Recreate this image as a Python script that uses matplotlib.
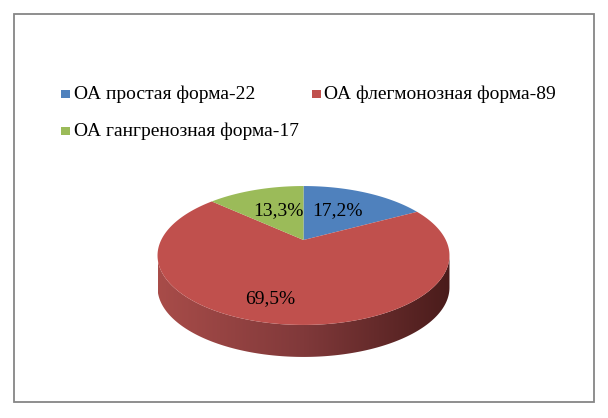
import numpy as np
import matplotlib.pyplot as plt
from matplotlib.patches import Polygon, Rectangle
from matplotlib.colors import LinearSegmentedColormap

plt.rcParams['font.family'] = ['Liberation Serif', 'DejaVu Serif']

# data
labels = ['ОА простая форма-22', 'ОА флегмонозная форма-89', 'ОА гангренозная форма-17']
values = [22, 89, 17]
colors = ['#4F81BD', '#C0504D', '#9BBB59']

# layout (pixel coordinates, y downwards)
W, H = 608, 418
cx, cy = 303.5, 240.0          # pie apex on screen
A, B, p = 142.3, 66.0, 0.223   # half axes and perspective factor
depth = 32
label_xy = [(337, 211), (270, 299), (278.5, 211)]
legend_xy = [(61, 94), (312, 94), (61, 131)]

fig = plt.figure(figsize=(W / 100, H / 100), dpi=100)
ax = fig.add_axes([0, 0, 1, 1])
ax.set_xlim(0, W)
ax.set_ylim(H, 0)
ax.axis('off')


def proj(phi, r=1.0):
    # phi in degrees, clockwise from 12 o'clock
    u = r * np.sin(np.radians(phi))
    v = -r * np.cos(np.radians(phi))
    d = 1 - p * v
    return cx + A * u / d, cy + B * v / d


# side wall (front part only)
phi_l = np.degrees(np.arccos(-p))
front = np.linspace(phi_l, 360 - phi_l, 200)
fx, fy = proj(front)
side = np.column_stack([np.r_[fx, fx[::-1]], np.r_[fy, fy[::-1] + depth]])
side_patch = Polygon(side, closed=True, facecolor='none', edgecolor='none')
ax.add_patch(side_patch)
cmap = LinearSegmentedColormap.from_list('side', ['#A84C49', '#80393A', '#4A1C1B'])
grad = np.linspace(0, 1, 256).reshape(1, -1)
im = ax.imshow(grad, cmap=cmap, aspect='auto', zorder=1,
               extent=[fx.min(), fx.max(), fy.max() + depth, fy.min()])
im.set_clip_path(side_patch)
ax.set_xlim(0, W)
ax.set_ylim(H, 0)

# top faces, first slice clockwise from 12 o'clock
total = sum(values)
a = 0.0
for i, val in enumerate(values):
    sweep = 360.0 * val / total
    ph = np.linspace(a, a + sweep, 200)
    a += sweep
    px, py = proj(ph)
    pts = np.column_stack([np.r_[cx, px], np.r_[cy, py]])
    ax.add_patch(Polygon(pts, closed=True, facecolor=colors[i],
                         edgecolor='none', zorder=2))

# percentage labels
for i, val in enumerate(values):
    txt = f'{100 * val / total:.1f}%'.replace('.', ',')
    ax.text(*label_xy[i], txt, ha='center', va='center', fontsize=14,
            color='black', zorder=3)

# legend
for i, lab in enumerate(labels):
    lx, ly = legend_xy[i]
    ax.add_patch(Rectangle((lx, ly - 4.2), 8.5, 8.5, facecolor=colors[i],
                           edgecolor='none'))
    ax.text(lx + 12.5, ly, lab, ha='left', va='center', fontsize=14,
            color='black')

# chart frame
ax.add_patch(Rectangle((13.5, 13.5), 580, 388.5, facecolor='none',
                       edgecolor='#868686', linewidth=1.3))

fig.savefig('out.png', dpi=100, facecolor='white')
